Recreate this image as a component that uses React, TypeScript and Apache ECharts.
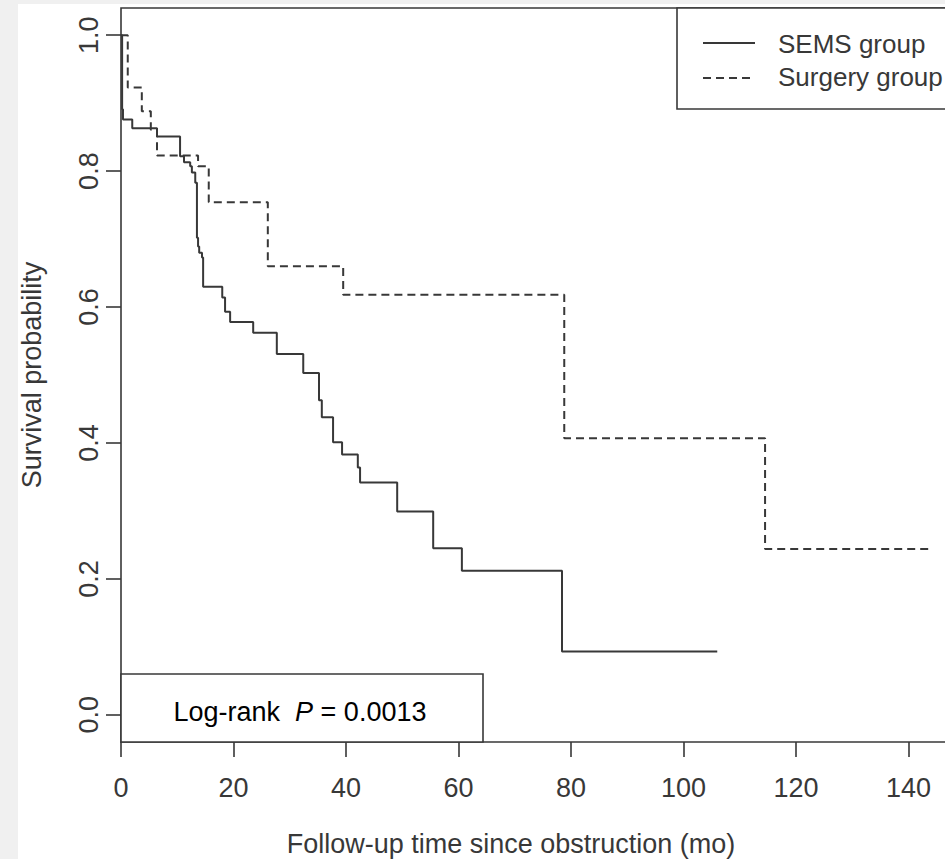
import React, { useEffect, useRef } from "react";
import * as echarts from "echarts";

// Kaplan–Meier estimates (time in months, survival probability)
const semsTime = [0, 0.2, 0.35, 2.0, 6.4, 10.5, 11.2, 12.3, 12.6, 13.2, 13.5, 13.7, 13.9, 14.4, 14.6, 18.0, 18.5, 19.4, 23.5, 27.7, 32.4, 35.2, 35.7, 37.7, 39.3, 42.1, 42.5, 49.1, 55.5, 60.6, 78.4, 106.0];
const semsSurv = [1.0, 0.891, 0.876, 0.863, 0.851, 0.822, 0.813, 0.807, 0.798, 0.783, 0.702, 0.689, 0.68, 0.673, 0.63, 0.614, 0.593, 0.578, 0.562, 0.531, 0.503, 0.463, 0.438, 0.401, 0.383, 0.364, 0.342, 0.299, 0.245, 0.212, 0.093, 0.093];

const surgeryTime = [0, 1.2, 3.7, 5.3, 6.4, 13.7, 15.6, 26.1, 39.5, 78.8, 114.5, 143.5];
const surgerySurv = [1.0, 0.923, 0.888, 0.861, 0.823, 0.807, 0.754, 0.66, 0.618, 0.407, 0.244, 0.244];

const xTicks = [0, 20, 40, 60, 80, 100, 120, 140];
const yTicks = [0, 0.2, 0.4, 0.6, 0.8, 1.0];

const seriesNames = ["SEMS group", "Surgery group"];
const xTitle = "Follow-up time since obstruction (mo)";
const yTitle = "Survival probability";
const pValue = "0.0013";

export default function App() {
  const ref = useRef<HTMLDivElement>(null);
  useEffect(() => {
    const chart = echarts.init(ref.current!, null, { renderer: "svg" });
    const font = '"Liberation Sans", Arial, sans-serif';
    const ink = "#383838";
    const fs = 27;
    const legendFs = 26;
    const semsData = semsTime.map((t, i) => [t, semsSurv[i]]);
    const surgeryData = surgeryTime.map((t, i) => [t, surgerySurv[i]]);
    chart.setOption({
      animation: false,
      backgroundColor: "transparent",
      grid: {
        left: 121,
        top: 8,
        width: 843.75,
        height: 734,
        show: true,
        backgroundColor: "#ffffff",
        borderColor: ink,
        borderWidth: 1.6,
      },
      xAxis: {
        type: "value",
        min: 0,
        max: 150,
        axisLine: { show: false, onZero: false },
        splitLine: { show: false },
        axisTick: {
          show: true,
          customValues: xTicks,
          length: 15,
          lineStyle: { color: ink, width: 1.6 },
        },
        axisLabel: {
          customValues: xTicks,
          margin: 32,
          fontSize: fs,
          fontFamily: font,
          color: ink,
        },
      },
      yAxis: {
        type: "value",
        min: -0.04,
        max: 1.04,
        axisLine: { show: false, onZero: false },
        splitLine: { show: false },
        axisTick: {
          show: true,
          customValues: yTicks,
          length: 15,
          lineStyle: { color: ink, width: 1.6 },
        },
        axisLabel: {
          customValues: yTicks,
          rotate: 90,
          margin: 19,
          fontSize: fs,
          fontFamily: font,
          color: ink,
          formatter: (v: number) => v.toFixed(1),
        },
        name: yTitle,
        nameLocation: "middle",
        nameRotate: 90,
        nameGap: 76,
        nameTextStyle: { fontSize: fs, fontFamily: font, color: ink },
      },
      series: [
        {
          name: seriesNames[0],
          type: "line",
          step: "end",
          symbol: "none",
          data: semsData,
          lineStyle: { color: ink, width: 2, type: "solid" },
          z: 3,
        },
        {
          name: seriesNames[1],
          type: "line",
          step: "end",
          symbol: "none",
          data: surgeryData,
          lineStyle: { color: ink, width: 2, type: [8, 5] },
          z: 3,
        },
      ],
      graphic: [
        {
          type: "rect",
          shape: { x: 677, y: 8, width: 300, height: 101 },
          style: { fill: "#ffffff", stroke: ink, lineWidth: 1.6 },
          z: 10,
        },
        {
          type: "line",
          shape: { x1: 703, y1: 43, x2: 755, y2: 43 },
          style: { stroke: ink, lineWidth: 2 },
          z: 11,
        },
        {
          type: "line",
          shape: { x1: 703, y1: 78, x2: 755, y2: 78 },
          style: { stroke: ink, lineWidth: 2, lineDash: [8, 5] },
          z: 11,
        },
        {
          type: "text",
          x: 778,
          y: 44,
          style: { text: seriesNames[0], fill: ink, fontSize: legendFs, fontFamily: font, textAlign: "left", textVerticalAlign: "middle" },
          z: 11,
        },
        {
          type: "text",
          x: 778,
          y: 77,
          style: { text: seriesNames[1], fill: ink, fontSize: legendFs, fontFamily: font, textAlign: "left", textVerticalAlign: "middle" },
          z: 11,
        },
        {
          type: "rect",
          shape: { x: 121, y: 674, width: 362, height: 68 },
          style: { fill: "#ffffff", stroke: ink, lineWidth: 1.6 },
          z: 10,
        },
        {
          type: "text",
          x: 300,
          y: 712,
          style: {
            text: "{a|Log-rank  }{p|P}{a| = " + pValue + "}",
            textAlign: "center",
            textVerticalAlign: "middle",
            rich: {
              a: { fontSize: fs, fontFamily: font, color: ink },
              p: { fontSize: fs, fontFamily: font, color: ink, fontStyle: "italic" },
            },
          },
          z: 11,
        },
        {
          type: "text",
          x: 511,
          y: 844,
          style: { text: xTitle, fill: ink, fontSize: fs, fontFamily: font, textAlign: "center", textVerticalAlign: "middle" },
          z: 11,
        },
      ],
    });
    return () => chart.dispose();
  }, []);
  return (
    <div style={{ position: "fixed", left: 0, top: 0, width: 945, height: 859, background: "#f0f0f0", overflow: "hidden" }}>
      <div style={{ position: "absolute", left: 18, top: 4, right: 0, bottom: 0, background: "#ffffff" }} />
      <div ref={ref} style={{ position: "absolute", left: 0, top: 0, width: 990, height: 859 }} />
    </div>
  );
}
